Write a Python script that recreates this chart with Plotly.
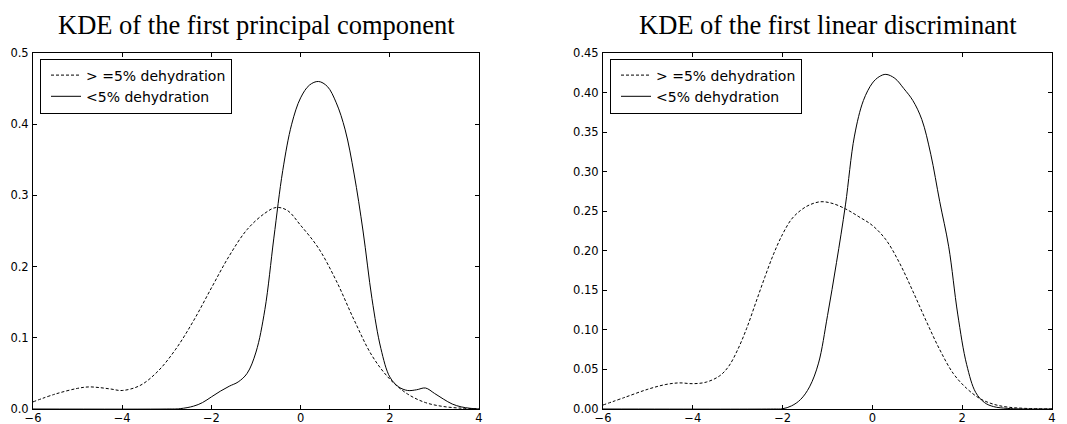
import plotly.graph_objects as go

# First principal component KDE
pc_x_hi = [-6, -5.5, -5, -4.75, -4.5, -4.25, -4, -3.6, -3.2, -2.8, -2.4, -2.0, -1.6, -1.2,
           -0.8, -0.55, -0.3, 0, 0.4, 0.8, 1.2, 1.6, 2.0, 2.4, 2.8, 3.2, 3.6, 4.0]
pc_y_hi = [0.010, 0.021, 0.029, 0.031, 0.030, 0.028, 0.026, 0.033, 0.053, 0.084, 0.124, 0.170,
           0.215, 0.252, 0.275, 0.283, 0.279, 0.258, 0.226, 0.180, 0.125, 0.075, 0.042, 0.021,
           0.009, 0.0035, 0.0012, 0.0004]

pc_x_lo = [-6, -3, -2.7, -2.4, -2.2, -2.0, -1.8, -1.6, -1.4, -1.2, -1.0, -0.8, -0.6, -0.4,
           -0.2, 0, 0.2, 0.4, 0.6, 0.8, 1.0, 1.2, 1.4, 1.6, 1.8, 2.0, 2.2, 2.4, 2.6, 2.8, 3.0,
           3.2, 3.4, 3.6, 3.8, 4.0]
pc_y_lo = [0, 0, 0.0005, 0.004, 0.009, 0.017, 0.025, 0.032, 0.038, 0.050, 0.080, 0.140, 0.240,
           0.335, 0.400, 0.437, 0.455, 0.460, 0.453, 0.430, 0.392, 0.330, 0.250, 0.155, 0.085,
           0.045, 0.031, 0.026, 0.027, 0.0295, 0.022, 0.014, 0.007, 0.003, 0.001, 0]

# First linear discriminant KDE
ld_x_hi = [-6, -5.5, -5, -4.6, -4.3, -4.0, -3.7, -3.4, -3.2, -3.0, -2.8, -2.6, -2.4, -2.2, -2.0,
           -1.8, -1.6, -1.4, -1.15, -0.9, -0.6, -0.3, 0, 0.3, 0.6, 0.9, 1.2, 1.5, 1.8, 2.1, 2.4,
           2.7, 3.0, 3.4, 4.0]
ld_y_hi = [0.005, 0.015, 0.025, 0.031, 0.033, 0.032, 0.034, 0.042, 0.054, 0.075, 0.102, 0.134,
           0.166, 0.196, 0.221, 0.240, 0.251, 0.258, 0.262, 0.260, 0.253, 0.243, 0.232, 0.214,
           0.185, 0.149, 0.111, 0.075, 0.045, 0.026, 0.013, 0.006, 0.0025, 0.0008, 0.0001]

ld_x_lo = [-6, -2.2, -2.0, -1.8, -1.6, -1.4, -1.2, -1.0, -0.8, -0.6, -0.4, -0.2, 0, 0.15, 0.3,
           0.5, 0.7, 0.9, 1.1, 1.3, 1.5, 1.7, 1.9, 2.1, 2.3, 2.5, 2.7, 3.0, 3.3, 4.0]
ld_y_lo = [0, 0, 0.0003, 0.004, 0.012, 0.028, 0.058, 0.118, 0.185, 0.258, 0.345, 0.390, 0.412,
           0.420, 0.423, 0.418, 0.405, 0.390, 0.366, 0.322, 0.262, 0.205, 0.120, 0.056, 0.021,
           0.008, 0.003, 0.0008, 0.0001, 0]

series_names = ["> =5% dehydration", "<5% dehydration"]
titles = ["KDE of the first principal component", "KDE of the first linear discriminant"]
x_ticks = [-6, -4, -2, 0, 2, 4]

W, H = 1067, 424
TICK_FONT = dict(family="DejaVu Sans", size=11.5, color="black")
LEGEND_FONT = dict(family="DejaVu Sans", size=14, color="black")
DASH = "3px,2px"

fig = go.Figure()

panels = [
    (pc_x_hi, pc_y_hi, pc_x_lo, pc_y_lo, "x", "y", "legend"),
    (ld_x_hi, ld_y_hi, ld_x_lo, ld_y_lo, "x2", "y2", "legend2"),
]
for xh, yh, xl, yl, xa, ya, lg in panels:
    fig.add_trace(go.Scatter(x=xh, y=yh, mode="lines", name=series_names[0],
                             line=dict(color="black", width=1, dash=DASH, shape="spline", smoothing=1.0),
                             xaxis=xa, yaxis=ya, legend=lg, hoverinfo="skip"))
    fig.add_trace(go.Scatter(x=xl, y=yl, mode="lines", name=series_names[1],
                             line=dict(color="black", width=1, shape="spline", smoothing=1.0),
                             xaxis=xa, yaxis=ya, legend=lg, hoverinfo="skip"))

axis_common = dict(showline=True, linecolor="black", linewidth=1, mirror="allticks",
                   ticks="inside", ticklen=4, tickcolor="black", tickwidth=1,
                   showgrid=False, zeroline=False, tickfont=TICK_FONT, fixedrange=True,
                   automargin=False)
x_axis_common = dict(axis_common, ticklabelstandoff=-2)
y_axis_common = dict(axis_common, ticklabelstandoff=1)

left_dom = [33 / W, 479 / W]
right_dom = [603 / W, 1052 / W]
y_dom = [(H - 409) / H, (H - 53) / H]

legend_common = dict(xanchor="left", yanchor="top", bgcolor="white",
                     bordercolor="black", borderwidth=1, font=LEGEND_FONT,
                     indentation=5)

fig.update_layout(
    width=W, height=H,
    margin=dict(l=0, r=0, t=0, b=0),
    paper_bgcolor="white", plot_bgcolor="white",
    xaxis=dict(domain=left_dom, range=[-6, 4], tickvals=x_ticks, anchor="y", **x_axis_common),
    yaxis=dict(domain=y_dom, range=[0, 0.5], tickvals=[0, 0.1, 0.2, 0.3, 0.4, 0.5],
               tickformat=".1f", anchor="x", **y_axis_common),
    xaxis2=dict(domain=right_dom, range=[-6, 4], tickvals=x_ticks, anchor="y2", **x_axis_common),
    yaxis2=dict(domain=y_dom, range=[0, 0.45],
                tickvals=[0, 0.05, 0.1, 0.15, 0.2, 0.25, 0.3, 0.35, 0.4, 0.45],
                tickformat=".2f", anchor="x2", **y_axis_common),
    legend=dict(x=40 / W, y=(H - 58.5) / H, **legend_common),
    legend2=dict(x=610 / W, y=(H - 58.5) / H, **legend_common),
    showlegend=True,
)

for dom, txt in zip([left_dom, right_dom], titles):
    fig.add_annotation(text=txt, xref="paper", yref="paper",
                       x=(dom[0] + dom[1]) / 2, y=(H - 25) / H,
                       xanchor="center", yanchor="middle", showarrow=False,
                       font=dict(family="Liberation Serif", size=26.5, color="black"))

# drop the page's default body margin so the figure sits flush in the window
fig.write_html("out.html",
               post_script="document.body.style.margin='0';"
                           "document.body.style.overflow='hidden';")
